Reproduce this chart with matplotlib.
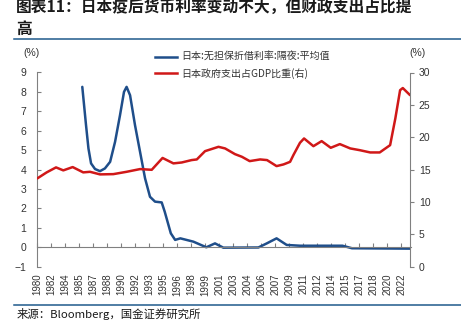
import numpy as np
import matplotlib
matplotlib.use('Agg')
import matplotlib.pyplot as plt
from matplotlib.lines import Line2D

plt.rcParams['font.family'] = ['Liberation Sans', 'Noto Sans CJK SC', 'DejaVu Sans']

# Japan overnight call rate (left, %)
blue_year = [1985.19, 1985.62, 1985.9, 1986.2, 1986.66, 1987.23, 1987.8, 1988.4, 1988.97,
             1989.54, 1990.0, 1990.3, 1990.7, 1991.27, 1991.85, 1992.43, 1993.0, 1993.58,
             1994.35, 1994.7, 1995.4, 1995.9, 1996.5, 1998.0, 1999.5, 2000.5, 2001.46,
             2005.5, 2006.47, 2007.6, 2008.77, 2010.3, 2015.2, 2016.3, 2023.0]
blue_val = [8.26, 6.29, 5.09, 4.32, 4.03, 3.92, 4.06, 4.4, 5.43,
            6.8, 8.0, 8.26, 7.83, 6.29, 4.92, 3.55, 2.6, 2.35,
            2.31, 1.83, 0.72, 0.38, 0.46, 0.29, 0.0, 0.2, -0.02,
            -0.01, 0.2, 0.46, 0.12, 0.08, 0.08, -0.05, -0.07]

# government spending share of GDP (right, %)
red_year = [1980.0, 1981.08, 1982.16, 1983.0, 1984.08, 1985.3, 1986.08, 1987.23, 1988.77,
            1990.3, 1991.85, 1993.2, 1994.45, 1995.7, 1996.66, 1997.8, 1998.4, 1999.35,
            2000.9, 2001.66, 2002.8, 2003.6, 2004.5, 2005.7, 2006.5, 2007.6, 2008.4,
            2009.16, 2009.54, 2010.3, 2010.77, 2011.85, 2012.8, 2013.85, 2014.9, 2016.1,
            2017.2, 2018.4, 2019.5, 2020.7, 2021.3, 2021.85, 2022.16, 2023.0]
red_val = [13.64, 14.57, 15.34, 14.88, 15.39, 14.57, 14.66, 14.26, 14.3,
           14.66, 15.08, 14.97, 16.8, 15.96, 16.1, 16.47, 16.57, 17.85,
           18.52, 18.27, 17.39, 16.98, 16.31, 16.57, 16.47, 15.54, 15.8,
           16.2, 17.24, 19.14, 19.81, 18.62, 19.4, 18.37, 18.94, 18.27,
           18.0, 17.65, 17.65, 18.78, 22.9, 27.27, 27.6, 26.5]

xlabels = ['1980', '1982', '1984', '1985', '1987', '1988', '1990', '1992', '1993',
           '1995', '1996', '1998', '1999', '2001', '2003', '2004', '2006', '2007',
           '2009', '2011', '2012', '2014', '2015', '2017', '2018', '2020', '2022']

blue = '#1F4E8A'
red = '#D01818'
grey = '#808080'
cjk = ['Noto Sans CJK SC', 'DejaVu Sans']

fig = plt.figure(figsize=(4.61, 3.32), dpi=100)
ax = fig.add_axes([37.3/461, 1-266.7/332, (410.5-37.3)/461, (266.7-72.5)/332])
ax2 = ax.twinx()

ax.plot(blue_year, blue_val, color=blue, lw=1.8, solid_capstyle='round')
ax2.plot(red_year, red_val, color=red, lw=1.8, solid_capstyle='round')

for a in (ax, ax2):
    a.spines['top'].set_visible(False)
    for s in a.spines.values():
        s.set_color(grey)
        s.set_linewidth(0.8)
ax.spines['right'].set_visible(False)
ax2.spines['left'].set_visible(False)
ax2.spines['bottom'].set_visible(False)
ax.spines['bottom'].set_position(('data', 0))

ax.set_xlim(1980, 2023.05)
ax.set_ylim(-1, 9)
ax2.set_ylim(0, 30)
ax.set_yticks(range(-1, 10))
ax2.set_yticks(range(0, 31, 5))

step = 14.0 / 373.2 * 43.05
ax.set_xticks(1980 + np.arange(len(xlabels)) * step)
ax.set_xticklabels(xlabels, rotation=90, fontsize=7, color='#333333')

ax.tick_params(axis='y', direction='in', length=3, width=0.8, color=grey,
               labelsize=7.5, labelcolor='#333333', pad=8)
ax.tick_params(axis='x', direction='in', length=3, width=0.8, color=grey, pad=19)
ax2.tick_params(axis='y', direction='out', length=3, width=0.8, color=grey,
                labelsize=7.5, labelcolor='#333333', pad=3)

fig.text(31/461, 1-53.5/332, '(%)', fontsize=7.5, color='#333333', ha='center', va='center')
fig.text(417/461, 1-53.5/332, '(%)', fontsize=7.5, color='#333333', ha='center', va='center')

handles = [Line2D([], [], color=blue, lw=1.8), Line2D([], [], color=red, lw=1.8)]
labels = ['日本:无担保折借利率:隔夜:平均值', '日本政府支出占GDP比重(右)']
fig.legend(handles, labels, loc='upper left', bbox_to_anchor=(150/461, 1-47/332),
           frameon=False, prop={'family': cjk, 'size': 7.2}, labelcolor='#333333',
           handlelength=2.2, handletextpad=0.4, labelspacing=0.6, borderpad=0)

fig.text(16/461, 1-8/332, '图表11：日本疫后货币利率变动不大，但财政支出占比提',
         fontsize=11.3, fontweight='bold', family=cjk, color='#1a1a1a',
         ha='left', va='center')
fig.text(16/461, 1-28.5/332, '高',
         fontsize=11.3, fontweight='bold', family=cjk, color='#1a1a1a',
         ha='left', va='center')
fig.add_artist(Line2D([14/461, 1], [1-38.5/332]*2, color='#1F5A8C', lw=1.1))
fig.add_artist(Line2D([14/461, 1], [1-305/332]*2, color='#1F5A8C', lw=1.1))
fig.text(17/461, 1-314/332, '来源：Bloomberg，国金证券研究所', fontsize=8.2,
         family=cjk, color='#1a1a1a', ha='left', va='center')

fig.savefig('out.png', dpi=100)
